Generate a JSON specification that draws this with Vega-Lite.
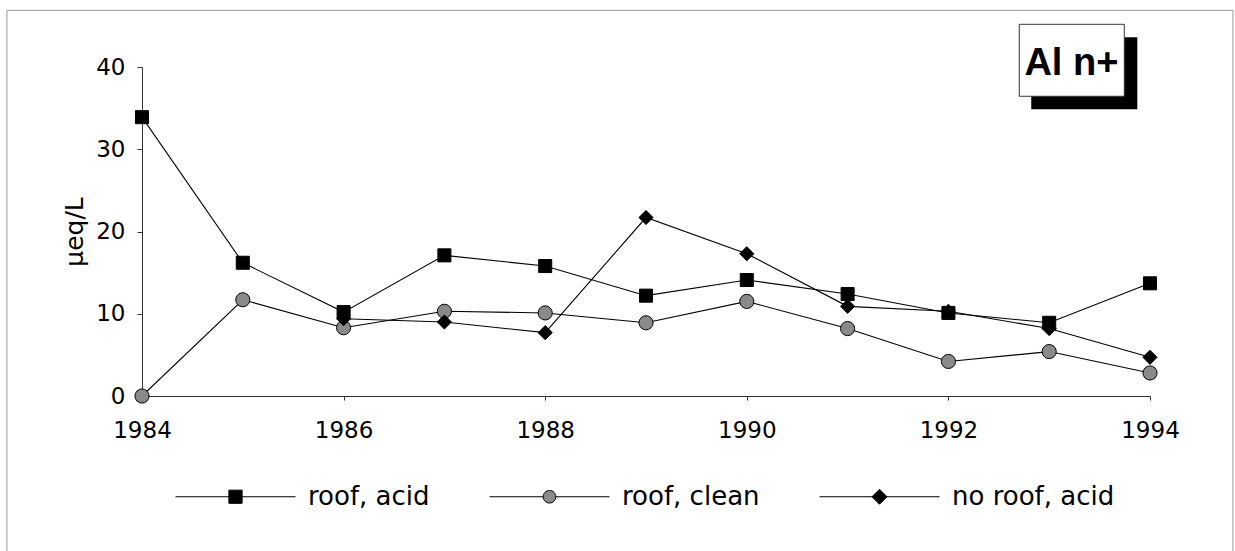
{
  "$schema": "https://vega.github.io/schema/vega-lite/v6.json",
  "width": 1008,
  "height": 329,
  "autosize": {"type": "none"},
  "padding": {"left": 142, "top": 67, "right": 85, "bottom": 155},
  "background": "white",
  "config": {
    "view": {"stroke": null},
    "axis": {
      "domainColor": "#333",
      "tickColor": "#333",
      "domainWidth": 1,
      "tickWidth": 1,
      "grid": false,
      "labelFont": "DejaVu Sans",
      "labelFontSize": 23,
      "labelColor": "black",
      "titleFont": "DejaVu Sans",
      "titleFontSize": 25,
      "titleFontWeight": "normal",
      "titleColor": "black"
    }
  },
  "data": {
    "values": [
      {"series": "roof, acid", "year": 1984, "value": 33.9},
      {"series": "roof, acid", "year": 1985, "value": 16.2},
      {"series": "roof, acid", "year": 1986, "value": 10.2},
      {"series": "roof, acid", "year": 1987, "value": 17.1},
      {"series": "roof, acid", "year": 1988, "value": 15.8},
      {"series": "roof, acid", "year": 1989, "value": 12.2},
      {"series": "roof, acid", "year": 1990, "value": 14.1},
      {"series": "roof, acid", "year": 1991, "value": 12.4},
      {"series": "roof, acid", "year": 1992, "value": 10.1},
      {"series": "roof, acid", "year": 1993, "value": 8.9},
      {"series": "roof, acid", "year": 1994, "value": 13.7},
      {"series": "roof, clean", "year": 1984, "value": 0},
      {"series": "roof, clean", "year": 1985, "value": 11.7},
      {"series": "roof, clean", "year": 1986, "value": 8.3},
      {"series": "roof, clean", "year": 1987, "value": 10.3},
      {"series": "roof, clean", "year": 1988, "value": 10.1},
      {"series": "roof, clean", "year": 1989, "value": 8.9},
      {"series": "roof, clean", "year": 1990, "value": 11.5},
      {"series": "roof, clean", "year": 1991, "value": 8.2},
      {"series": "roof, clean", "year": 1992, "value": 4.2},
      {"series": "roof, clean", "year": 1993, "value": 5.4},
      {"series": "roof, clean", "year": 1994, "value": 2.8},
      {"series": "no roof, acid", "year": 1986, "value": 9.4},
      {"series": "no roof, acid", "year": 1987, "value": 9.0},
      {"series": "no roof, acid", "year": 1988, "value": 7.7},
      {"series": "no roof, acid", "year": 1989, "value": 21.7},
      {"series": "no roof, acid", "year": 1990, "value": 17.3},
      {"series": "no roof, acid", "year": 1991, "value": 10.9},
      {"series": "no roof, acid", "year": 1992, "value": 10.3},
      {"series": "no roof, acid", "year": 1993, "value": 8.2},
      {"series": "no roof, acid", "year": 1994, "value": 4.7}
    ]
  },
  "layer": [
    {
      "data": {"values": [{"label": "frame"}]},
      "mark": {"type": "rect", "fill": null, "filled": false, "stroke": "#999", "strokeWidth": 1},
      "encoding": {
        "x": {"datum": 1982.66, "type": "quantitative"},
        "x2": {"datum": 1994.823},
        "y": {"datum": 46.89, "type": "quantitative"},
        "y2": {"datum": -19.6}
      }
    },
    {
      "data": {"values": [{"label": "Al n+"}]},
      "mark": {"type": "rect", "fill": "black"},
      "encoding": {
        "x": {"datum": 1992.822, "type": "quantitative"},
        "x2": {"datum": 1993.874},
        "y": {"datum": 43.61, "type": "quantitative"},
        "y2": {"datum": 34.85}
      }
    },
    {
      "data": {"values": [{"label": "Al n+"}]},
      "mark": {"type": "rect", "fill": "white", "stroke": "#333", "strokeWidth": 1},
      "encoding": {
        "x": {"datum": 1992.703, "type": "quantitative"},
        "x2": {"datum": 1993.745},
        "y": {"datum": 45.19, "type": "quantitative"},
        "y2": {"datum": 36.44}
      }
    },
    {
      "data": {"values": [{"label": "Al n+"}]},
      "mark": {"type": "text", "font": "Liberation Sans", "fontWeight": "bold", "fontSize": 38, "align": "center", "baseline": "alphabetic", "color": "black"},
      "encoding": {
        "x": {"datum": 1993.22, "type": "quantitative"},
        "y": {"datum": 39.0, "type": "quantitative"},
        "text": {"field": "label"}
      }
    },
    {
      "mark": {"type": "line", "strokeWidth": 1.1},
      "encoding": {
        "x": {
          "field": "year", "type": "quantitative",
          "scale": {"domain": [1984, 1994], "nice": false, "zero": false},
          "axis": {"title": null, "values": [1984, 1986, 1988, 1990, 1992, 1994], "format": "d", "tickSize": 4, "labelPadding": 19, "labelFlush": false, "labelOverlap": false}
        },
        "y": {
          "field": "value", "type": "quantitative",
          "scale": {"domain": [0, 40], "nice": false},
          "axis": {"title": "µeq/L", "values": [0, 10, 20, 30, 40], "tickSize": 5, "labelPadding": 12, "titlePadding": 8, "labelFlush": false}
        },
        "color": {
          "field": "series", "type": "nominal",
          "scale": {"domain": ["roof, acid", "roof, clean", "no roof, acid"], "range": ["black", "black", "black"]},
          "legend": {
            "title": null,
            "orient": "none",
            "legendX": 33,
            "legendY": 369,
            "direction": "horizontal",
            "padding": 0,
            "symbolSize": 14400,
            "labelFont": "DejaVu Sans",
            "labelFontSize": 26,
            "labelColor": "black",
            "labelOffset": 12,
            "labelLimit": 400,
            "columnPadding": 57,
            "encode": {
              "symbols": {
                "update": {
                  "shape": {"signal": "datum.value === 'roof, acid' ? 'M-1,0L1,0M-0.11,-0.11L0.11,-0.11L0.11,0.11L-0.11,0.11Z' : datum.value === 'roof, clean' ? 'M-1,0L-0.105,0M0.105,0L1,0M0.105,0A0.105,0.105,0,1,1,-0.105,0A0.105,0.105,0,1,1,0.105,0Z' : 'M-1,0L1,0M-0.125,0L0,-0.125L0.125,0L0,0.125Z'"},
                  "fill": {"signal": "datum.value === 'roof, clean' ? '#8a8a8a' : 'black'"},
                  "stroke": {"value": "black"},
                  "strokeWidth": {"value": 1},
                  "opacity": {"value": 1}
                }
              }
            }
          }
        }
      }
    },
    {
      "transform": [{"filter": "datum.series === 'roof, acid'"}],
      "mark": {"type": "point", "shape": "square", "filled": true, "fill": "black", "stroke": "black", "strokeWidth": 1, "size": 170, "opacity": 1},
      "encoding": {
        "x": {"field": "year", "type": "quantitative"},
        "y": {"field": "value", "type": "quantitative"}
      }
    },
    {
      "transform": [{"filter": "datum.series === 'roof, clean'"}],
      "mark": {"type": "point", "shape": "circle", "filled": true, "fill": "#8a8a8a", "stroke": "black", "strokeWidth": 1, "size": 200, "opacity": 1},
      "encoding": {
        "x": {"field": "year", "type": "quantitative"},
        "y": {"field": "value", "type": "quantitative"}
      }
    },
    {
      "transform": [{"filter": "datum.series === 'no roof, acid'"}],
      "mark": {"type": "point", "shape": "diamond", "filled": true, "fill": "black", "stroke": "black", "strokeWidth": 1, "size": 200, "opacity": 1},
      "encoding": {
        "x": {"field": "year", "type": "quantitative"},
        "y": {"field": "value", "type": "quantitative"}
      }
    }
  ]
}
